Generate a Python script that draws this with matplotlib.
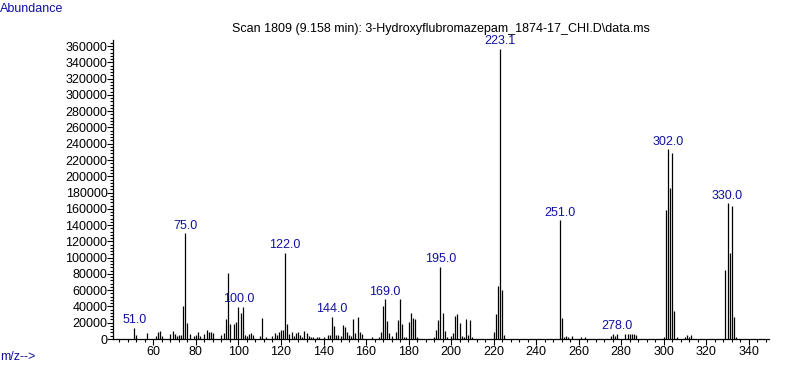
import matplotlib
matplotlib.use("Agg")
import matplotlib.pyplot as plt
from matplotlib.ticker import MultipleLocator

plt.rcParams['font.family'] = ['Liberation Sans', 'DejaVu Sans']

# ---- data ----
mz = [51, 52, 57, 61, 62, 63, 64, 68, 69, 70, 71, 72, 73, 74, 75, 76, 77, 79, 80,
      81, 82, 84, 85, 86, 87, 88, 92, 93, 94, 95, 96, 98, 99, 100, 101, 102, 103,
      104, 105, 106, 107, 110, 111, 113, 116, 117, 118, 119, 120, 121, 122, 123,
      124, 125, 126, 127, 128, 129, 130, 131, 132, 133, 134, 135, 137, 138, 140,
      142, 143, 144, 145, 146, 147, 148, 149, 150, 151, 152, 153, 154, 155, 156,
      157, 158, 163, 166, 167, 168, 169, 170, 171, 172, 174, 175, 176, 177, 178,
      179, 180, 181, 182, 183, 184, 192, 193, 194, 195, 196, 197, 198, 200, 201,
      202, 203, 204, 205, 206, 207, 208, 209, 210, 220, 221, 222, 223, 224, 225,
      251, 252, 253, 254, 255, 257, 261, 263, 275, 276, 277, 278, 282, 283, 284,
      285, 286, 287, 300, 301, 302, 303, 304, 305, 306, 310, 311, 312, 313, 329,
      330, 331, 332, 333, 334]
abundance = [14000, 5000, 7000, 4000, 8600, 9800, 4000, 6000, 9800, 6000, 4000, 5000,
             5000, 40500, 130000, 19300, 6000, 4000, 5000, 8600, 4000, 6000, 11000,
             8600, 8600, 7000, 5000, 7000, 24600, 81000, 18400, 18400, 20900, 39700,
             32300, 39700, 5000, 4000, 6000, 7000, 5000, 4000, 25800, 3000, 4000, 7000,
             5000, 9000, 11000, 11000, 106000, 18400, 6500, 8600, 4000, 7000, 8600,
             5000, 3000, 9800, 7000, 4000, 3000, 2000, 2000, 2000, 2000, 5000, 5000,
             27400, 16000, 5000, 5000, 4000, 17200, 14300, 8600, 5000, 4000, 24600,
             7000, 27000, 8600, 6000, 2000, 2000, 8600, 40500, 49000, 22100, 7000,
             4000, 8600, 23300, 49000, 18400, 3000, 2000, 21300, 32000, 25800, 24600,
             3000, 3000, 11000, 23300, 88900, 32000, 9800, 3000, 3500, 7700, 28300,
             30700, 19300, 3500, 2000, 24600, 4500, 23300, 2500, 8600, 30700, 65500,
             357000, 60200, 4900, 146000, 25800, 3000, 3500, 3000, 3500, 3000, 3000,
             3500, 6500, 3500, 6500, 6500, 6500, 6500, 6500, 6500, 4500, 3000, 159000,
             233500, 185600, 228200, 34400, 2000, 2000, 5000, 2000, 5000, 84800,
             166800, 106000, 163500, 27400, 2000]

label_mz = [51, 75, 100, 122, 144, 169, 195, 223, 251, 278, 302, 330]
label_text = ["51.0", "75.0", "100.0", "122.0", "144.0", "169.0", "195.0", "223.1",
              "251.0", "278.0", "302.0", "330.0"]

title = "Scan 1809 (9.158 min): 3-Hydroxyflubromazepam_1874-17_CHI.D\\data.ms"

# ---- figure ----
W, H = 787, 367
fig = plt.figure(figsize=(W / 100, H / 100), dpi=100)
ax = fig.add_axes([113 / W, 1 - 339 / H, (769 - 113) / W, (339 - 40) / H])

ax.vlines(mz, 0, abundance, colors='black', linewidth=0.9)

navy = '#1010A0'
lookup = dict(zip(mz, abundance))
for m, t in zip(label_mz, label_text):
    ax.annotate(t, xy=(m, lookup[m]), xytext=(0, 1), textcoords='offset points',
                ha='center', va='bottom', fontsize=9, color=navy)

ax.set_xlim(41, 349.5)
ax.set_ylim(0, 367500)

ax.xaxis.set_major_locator(MultipleLocator(20))
ax.xaxis.set_minor_locator(MultipleLocator(4))
ax.yaxis.set_major_locator(MultipleLocator(20000))
ax.yaxis.set_minor_locator(MultipleLocator(4000))
ax.set_yticks(range(0, 360001, 20000))
ax.set_yticklabels([str(v) for v in range(0, 360001, 20000)])

for s in ['top', 'right']:
    ax.spines[s].set_visible(False)
for s in ['left', 'bottom']:
    ax.spines[s].set_linewidth(0.9)

ax.tick_params(axis='both', which='major', direction='out', length=4, width=0.8,
               labelsize=9, pad=1)
ax.tick_params(axis='y', which='major', pad=0)
ax.tick_params(axis='both', which='minor', direction='out', length=2.5, width=0.8)

fig.text(0, 1 - 9 / H, "Abundance", color=navy, fontsize=9, ha='left', va='center')
fig.text(0, 1 - 357 / H, "m/z-->", color=navy, fontsize=9, ha='left', va='center')
fig.text(441 / W, 1 - 29 / H, title, color='black', fontsize=9, ha='center', va='center')

fig.savefig("out.png", dpi=100)
